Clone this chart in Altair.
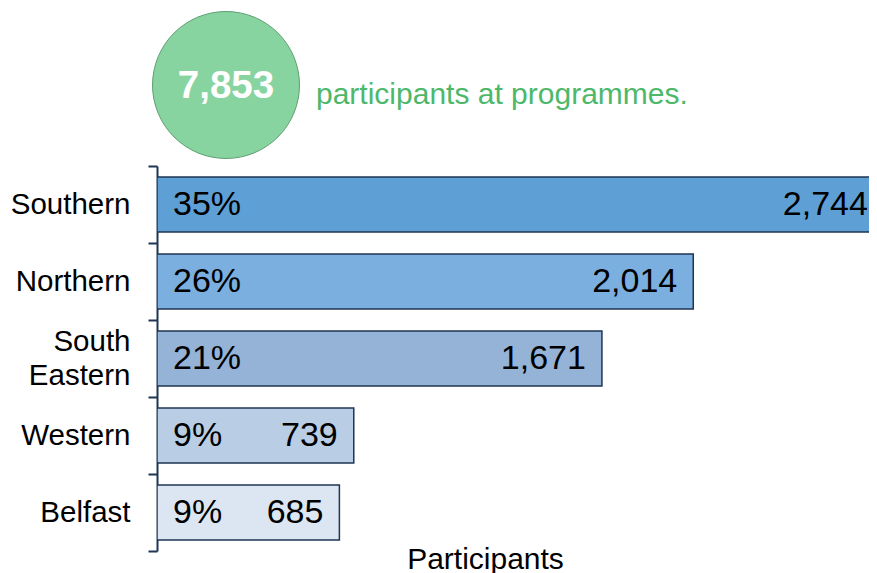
import altair as alt
import pandas as pd

regions = ["Southern", "Northern", "South Eastern", "Western", "Belfast"]
participants = [2744, 2014, 1671, 739, 685]
shares = ["35%", "26%", "21%", "9%", "9%"]
colors = ["#5E9FD6", "#7BAFDF", "#95B3D7", "#B9CDE5", "#DCE6F2"]

total = sum(participants)
FONT = "Liberation Sans"
NAVY = "#1F3553"
X_MAX = 2674          # visible end of the x axis (longest bar runs past it)
LABEL_CAP = 2730      # keep value labels inside the visible area

df = pd.DataFrame({
    "region": regions,
    "participants": participants,
    "share": shares,
    "color": colors,
})
df["label"] = df["participants"].map(lambda v: f"{v:,}")

y_scale = alt.Scale(paddingInner=0, paddingOuter=0)

y_enc = alt.Y(
    "region:N",
    sort=regions,
    scale=y_scale,
    axis=alt.Axis(
        title=None,
        labelExpr="split(datum.label, ' ')",
        labelFont=FONT,
        labelFontSize=29.5,
        labelColor="#000000",
        labelLineHeight=34,
        labelAlign="right",
        labelBaseline="middle",
        labelPadding=18,
        labelOffset={"condition": {"test": "datum.value === 'South Eastern'", "value": -17}, "value": 0},
        domainColor=NAVY,
        domainWidth=2,
        tickColor=NAVY,
        tickWidth=2,
        tickSize=9,
        tickBand="extent",
        grid=False,
    ),
)

x_scale = alt.Scale(domain=[0, X_MAX], nice=False, zero=True)

base = alt.Chart(df)

bars = base.mark_bar(clip=True, stroke=NAVY, strokeWidth=1.5, height={"band": 0.714}).encode(
    x=alt.X(
        "participants:Q",
        scale=x_scale,
        axis=alt.Axis(
            title="Participants",
            labels=False,
            ticks=False,
            domain=False,
            grid=False,
            titleFont=FONT,
            titleFontSize=30,
            titleFontWeight="normal",
            titleColor="#000000",
            titleX=328,
            titleY=17,
            titleAlign="center",
            titleBaseline="alphabetic",
        ),
    ),
    y=y_enc,
    color=alt.Color("color:N", scale=None),
)

pct = base.mark_text(
    align="left", baseline="middle", dx=16, font=FONT, fontSize=34, color="#000000"
).encode(
    x=alt.X("zero:Q", scale=x_scale),
    y=alt.Y("region:N", sort=regions),
    text="share:N",
).transform_calculate(zero="0")

vals = base.mark_text(
    align="right", baseline="middle", dx=-16, font=FONT, fontSize=34, color="#000000"
).encode(
    x=alt.X("pos:Q", scale=x_scale),
    y=alt.Y("region:N", sort=regions),
    text="label:N",
).transform_calculate(pos=f"min(datum.participants, {LABEL_CAP})")

hdr = alt.Chart(pd.DataFrame({"total": [f"{total:,}"], "caption": ["participants at programmes."]}))

circle = hdr.mark_point(
    shape="circle", filled=True, size=21600, fill="#88D4A0", stroke="#5E9F72",
    strokeWidth=1, opacity=1,
).encode(x=alt.value(69), y=alt.value(-81))

num = hdr.mark_text(
    font=FONT, fontSize=38.5, fontWeight="bold", color="#FFFFFF",
    align="center", baseline="middle",
).encode(x=alt.value(69), y=alt.value(-80), text="total:N")

cap = hdr.mark_text(
    font=FONT, fontSize=30, color="#4DB86A", align="left", baseline="middle",
).encode(x=alt.value(159), y=alt.value(-71), text="caption:N")

chart = alt.layer(bars, pct, vals, circle, num, cap).properties(
    width=712,
    height=385,
    autosize=alt.AutoSizeParams(type="none"),
    padding={"left": 149, "top": 158, "right": 0, "bottom": 22},
    background="#FFFFFF",
).configure_view(stroke=None)

chart.save("out.html", embed_options={"renderer": "svg", "actions": False})
